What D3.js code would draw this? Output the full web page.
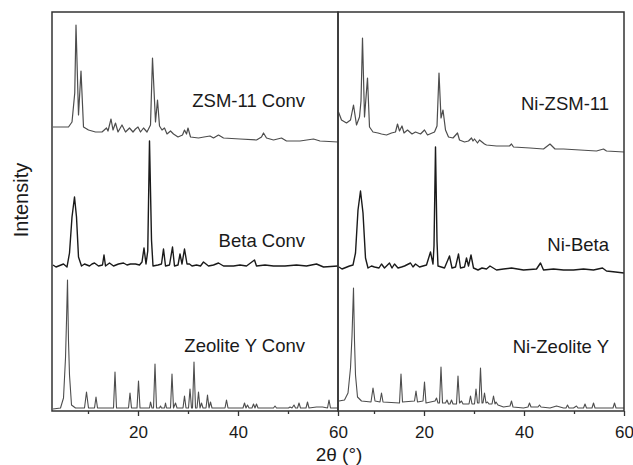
<!DOCTYPE html>
<html>
<head>
<meta charset="utf-8">
<script src="https://cdn.jsdelivr.net/npm/d3@7"></script>
<style>
    body { margin: 0; background: #fff; }
    text { font-family: "Liberation Sans", Arial, sans-serif; fill: #1a1a1a; }
</style>
</head>
<body>
<div id="chart"></div>
<script>
// [2theta, intensity], intensity already stacked
var zsmConv = [[3.0,284],[4.5,284],[6.1,284],[6.8,289],[7.35,318],[7.6,386],[8.1,296],[8.6,340],[9.1,284],[10.1,281],[11.5,279],[12.8,279],[13.7,283],[14.0,280],[14.6,292],[15.0,281],[15.5,288],[16.0,279],[16.8,286],[17.5,279],[18.3,283],[19.0,279],[19.5,282],[20.0,284],[20.5,279],[21.1,283],[21.8,279],[22.5,286],[22.9,353],[23.5,289],[23.9,311],[24.3,285],[24.8,281],[25.3,283],[25.8,277],[26.5,280],[27.1,277],[28.0,274],[28.9,276],[29.3,281],[29.7,277],[30.0,283],[30.5,274],[32.1,273],[33.2,274],[34.4,275],[35.1,273],[36.1,276],[37.1,273],[40.4,272],[43.7,271],[44.7,274],[45.1,278],[45.7,273],[47.1,271],[48.7,273],[49.7,270],[52.4,270],[55.1,272],[56.4,270],[60,269]];
var betaConv = [[3.0,146],[3.6,144],[4.1,145],[4.6,146],[5.1,147],[5.8,144],[6.3,158],[6.8,194],[7.3,214],[7.7,194],[8.1,154],[8.7,145],[9.3,147],[9.8,146],[10.3,145],[10.8,147],[11.3,148],[12.1,145],[12.9,146],[13.2,156],[13.5,145],[14.3,148],[15.1,145],[15.6,146],[16.1,147],[17.1,148],[17.8,146],[18.5,147],[19.5,147],[20.3,146],[20.8,149],[21.2,163],[21.6,147],[21.95,160],[22.3,270],[22.7,171],[23.0,145],[24.0,146],[24.7,147],[25.1,162],[25.5,145],[26.3,146],[26.9,164],[27.3,145],[28.0,146],[28.4,157],[28.8,147],[29.3,162],[29.8,147],[30.3,147],[30.8,145],[31.7,146],[32.5,145],[33.1,149],[34.1,145],[35.1,146],[36.1,148],[37.1,145],[39.1,145],[40.4,146],[41.7,145],[43.3,151],[43.7,145],[45.4,146],[47.1,145],[49.4,145],[51.7,146],[53.7,145],[55.7,147],[57.1,144],[60,145]];
var zeoConv = [[3.0,2],[4.5,3],[5.1,13],[5.5,53],[5.7,90],[5.9,131],[6.1,70],[6.3,36],[6.7,6],[7.5,3],[9.3,3],[9.7,19],[10.1,3],[11.3,3],[11.6,14],[11.9,3],[15.1,3],[15.4,39],[15.7,3],[18.1,3],[18.4,18],[18.7,3],[19.8,3],[20.1,30],[20.4,3],[22.3,3],[22.5,9],[22.8,3],[23.1,3],[23.4,47],[23.7,3],[24.3,3],[24.5,5],[24.7,3],[25.3,3],[25.5,8],[25.7,3],[26.5,3],[26.8,37],[27.1,3],[27.5,8],[27.8,3],[29.0,3],[29.3,15],[29.6,3],[30.1,3],[30.4,22],[30.7,3],[30.9,3],[31.2,49],[31.5,3],[31.8,3],[32.1,19],[32.4,3],[32.7,8],[33.0,3],[33.6,3],[33.9,16],[34.2,3],[34.5,9],[34.8,3],[37.4,3],[37.7,11],[38.0,3],[41.0,3],[41.3,8],[41.6,3],[41.9,6],[42.2,3],[42.8,3],[43.1,7],[43.4,3],[43.7,7],[44.0,3],[47.1,3],[47.4,5],[47.7,3],[50.1,3],[50.4,4],[50.8,3],[51.2,6],[51.5,3],[51.9,3],[52.2,8],[52.5,3],[53.6,3],[53.9,9],[54.2,3],[55.7,4],[56.9,4],[57.9,3],[58.2,11],[58.5,3],[60,3]];

var zsmNi = [[2.9,299],[3.5,291],[4.5,288],[5.3,291],[5.9,306],[6.5,286],[7.1,294],[7.4,310],[7.7,373],[8.1,294],[8.7,333],[9.1,284],[9.8,279],[10.8,278],[11.5,277],[12.5,276],[13.5,278],[14.3,279],[14.7,287],[15.1,280],[15.6,285],[16.0,278],[16.7,281],[17.6,277],[18.3,279],[19.3,277],[20.1,281],[20.7,276],[22.1,279],[22.6,285],[23.0,338],[23.4,293],[23.8,301],[24.3,281],[24.9,274],[25.8,273],[26.7,278],[27.1,271],[28.1,269],[28.9,270],[29.5,273],[29.8,270],[30.1,272],[30.7,268],[31.1,271],[32.1,267],[32.5,266],[34.5,265],[37.1,265],[37.5,267],[37.9,264],[41.2,263],[43.9,262],[45.2,267],[46.2,262],[47.9,262],[51.2,261],[54.5,260],[55.9,262],[56.5,260],[60,259]];
var betaNi = [[3.0,144],[3.6,142],[4.1,143],[4.6,144],[5.1,145],[5.8,146],[6.3,158],[6.8,201],[7.3,220],[7.8,198],[8.3,153],[8.8,143],[9.5,145],[10.1,144],[11.0,143],[11.5,147],[12.1,143],[13.1,148],[13.6,143],[14.1,147],[14.8,143],[15.5,144],[16.1,145],[17.3,148],[17.8,144],[18.3,147],[19.1,144],[19.8,145],[20.5,146],[21.3,159],[21.8,147],[22.0,165],[22.3,264],[22.6,170],[22.8,145],[24.1,143],[25.1,155],[25.6,143],[26.3,144],[26.9,157],[27.3,143],[28.1,144],[28.5,153],[28.9,145],[29.4,156],[29.9,143],[30.8,141],[31.6,143],[32.5,142],[33.2,145],[34.5,141],[35.9,142],[37.5,143],[38.7,142],[39.9,141],[42.5,142],[43.3,148],[43.9,141],[45.9,142],[47.9,141],[49.9,141],[51.9,142],[53.9,141],[55.7,143],[56.5,140],[58.3,139],[60,138]];
var zeoNi = [[3.0,10],[4.1,11],[4.8,18],[5.3,43],[5.6,75],[5.9,123],[6.1,70],[6.3,36],[6.7,14],[7.5,10],[9.4,9],[9.8,23],[10.2,10],[11.2,9],[11.5,18],[11.8,9],[15.1,8],[15.4,37],[15.7,9],[18.1,10],[18.4,20],[18.7,9],[19.8,10],[20.1,29],[20.4,8],[22.2,10],[22.5,13],[22.8,8],[23.1,8],[23.4,44],[23.7,8],[24.3,8],[24.6,11],[24.9,7],[25.2,7],[25.5,11],[25.8,7],[26.5,7],[26.8,35],[27.1,8],[27.5,10],[27.8,7],[29.0,7],[29.3,15],[29.6,7],[30.1,7],[30.4,22],[30.7,8],[31.0,8],[31.3,43],[31.6,8],[31.8,8],[32.1,18],[32.4,8],[32.7,9],[33.0,7],[33.6,7],[33.9,15],[34.2,7],[34.4,9],[34.8,6],[35.9,4],[37.2,5],[37.5,10],[37.8,4],[39.9,3],[40.8,4],[41.1,8],[41.4,4],[42.8,4],[43.1,6],[43.4,4],[45.2,3],[46.5,5],[47.9,3],[48.4,3],[48.7,6],[49.0,3],[49.9,3],[50.5,5],[50.8,3],[51.9,3],[52.2,7],[52.5,3],[53.6,3],[53.9,8],[54.2,3],[57.8,3],[58.1,8],[58.4,3],[60,3]];

var leftLabels = ["ZSM-11 Conv", "Beta Conv", "Zeolite Y Conv"];
var rightLabels = ["Ni-ZSM-11", "Ni-Beta", "Ni-Zeolite Y"];
var majorTicks = [20, 40, 60];
var minorTicks = [10, 30, 50];

var width = 633, height = 465;
var plotTop = 12, plotBottom = 411, panelW = 286;

var svg = d3.select("#chart").append("svg")
    .attr("width", width)
    .attr("height", height);

var yScale = d3.scaleLinear().domain([0, 399]).range([plotBottom, plotTop]);

drawPanel(52, [zsmConv, betaConv, zeoConv], leftLabels, [304, 164, 59], 53.4);
drawPanel(338, [zsmNi, betaNi, zeoNi], rightLabels, [301, 160, 58], 57);

function drawPanel(x0, series, labels, labelY, labelX) {
    var xScale = d3.scaleLinear().domain([2.8, 60]).range([x0, x0 + panelW]);

    var line = d3.line()
        .x(function(d) { return xScale(d[0]); })
        .y(function(d) { return yScale(d[1]); });

    var colors = ["#4d4d4d", "#1a1a1a", "#4d4d4d"];
    var widths = [1.2, 1.4, 1.1];

    svg.append("g").selectAll("path")
        .data(series).enter()
        .append("path")
        .attr("d", line)
        .attr("fill", "none")
        .attr("stroke", function(d, i) { return colors[i]; })
        .attr("stroke-width", function(d, i) { return widths[i]; })
        .attr("stroke-linejoin", "round");

    svg.append("g").selectAll("text")
        .data(labels).enter()
        .append("text")
        .attr("x", xScale(labelX))
        .attr("y", function(d, i) { return yScale(labelY[i]); })
        .attr("text-anchor", "end")
        .attr("font-size", 18.5)
        .text(function(d) { return d; });

    // major ticks with labels
    var major = svg.append("g")
        .attr("transform", "translate(0," + plotBottom + ")")
        .call(d3.axisBottom(xScale).tickValues(majorTicks).tickSize(5).tickPadding(10));
    major.select(".domain").remove();
    major.selectAll("line").attr("stroke", "#333").attr("stroke-width", 1.3);
    major.selectAll("text").attr("font-size", 17).attr("fill", "#1a1a1a")
        .attr("font-family", "Liberation Sans, Arial, sans-serif");

    var minor = svg.append("g")
        .attr("transform", "translate(0," + plotBottom + ")")
        .call(d3.axisBottom(xScale).tickValues(minorTicks).tickSize(3).tickFormat(""));
    minor.select(".domain").remove();
    minor.selectAll("line").attr("stroke", "#333").attr("stroke-width", 1.3);

    svg.append("rect")
        .attr("x", x0)
        .attr("y", plotTop)
        .attr("width", panelW)
        .attr("height", plotBottom - plotTop)
        .attr("fill", "none")
        .attr("stroke", "#333")
        .attr("stroke-width", 1.5);
}

svg.append("text")
    .attr("transform", "translate(28," + 200 + ") rotate(-90)")
    .attr("text-anchor", "middle")
    .attr("font-size", 20)
    .text("Intensity");

svg.append("text")
    .attr("x", 339)
    .attr("y", 461)
    .attr("text-anchor", "middle")
    .attr("font-size", 19)
    .text("2θ (°)");
</script>
</body>
</html>
